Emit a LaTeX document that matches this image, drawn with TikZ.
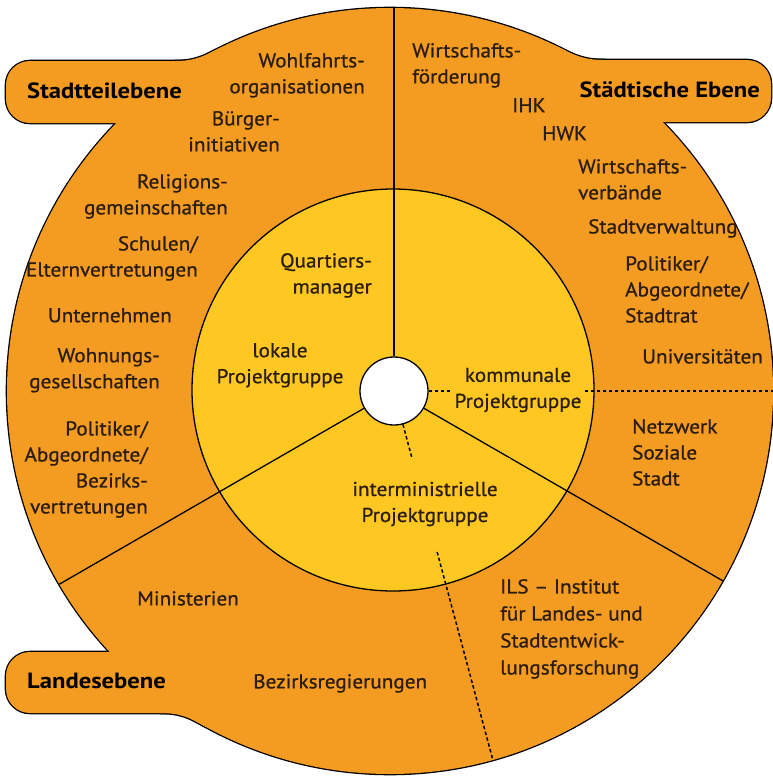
\documentclass[tikz,border=0pt]{standalone}
\usepackage{fontspec}
\setmainfont{PT Sans}
\newfontfamily\lblfont{PT Sans}[FakeBold=0.8, FakeStretch=1.06]
\newfontfamily\tabfont{PT Sans}[FakeStretch=1.12]
\usetikzlibrary{calc}
\definecolor{outerorange}{HTML}{F49B21}
\definecolor{inneryellow}{HTML}{FEC722}
\definecolor{txt}{HTML}{2A1D10}
\begin{document}
\begin{tikzpicture}[x=1pt,y=-1pt,
  lbl/.style={font=\lblfont\fontsize{20}{26}\selectfont, text=txt, inner sep=0pt},
  lblr/.style={lbl, align=right, anchor=north east},
  lbll/.style={lbl, align=left, anchor=north west},
  lblc/.style={lbl, align=center},
  tablbl/.style={font=\tabfont\bfseries\fontsize{22}{26}\selectfont, text=black, inner sep=0pt},
  divider/.style={line width=1.3pt, draw=black},
  dashdiv/.style={line width=1.5pt, draw=black, dash pattern=on 3.5pt off 2.5pt},
  covbox/.style={fill=inneryellow},
  tabshape/.style={rounded corners=24pt},
]
\useasboundingbox (0,0) rectangle (773,780);
% the outer shape: circle, three tabs and their fillets
\def\outershapes#1{%
  #1[tabshape] (6,61) rectangle (300,123);
  #1[tabshape] (480,60) rectangle (771,122);
  #1[tabshape] (6,652) rectangle (300,713);
  #1 (175,61) .. controls (195,61) and (204,56) .. (222,47) -- (240,90) -- (175,90) -- cycle;
  #1 (605,60) .. controls (585,60) and (576,56) .. (558,47) -- (540,90) -- (605,90) -- cycle;
  #1 (160,713) .. controls (180,713) and (188,717) .. (206,727) -- (230,690) -- (160,690) -- cycle;
  #1 (390,391) circle[radius=383pt];
}
% outline of the union (outer half of a wide stroke)
\begin{scope}[line width=2.6pt, line join=round]
  \outershapes{\draw}
\end{scope}
\begin{scope}[fill=outerorange]
  \outershapes{\fill}
\end{scope}
% inner circle
\filldraw[fill=inneryellow, line width=1.3pt] (393,390) circle[radius=201pt];
% hub
\node[circle, minimum size=68pt, inner sep=0pt, fill=white, draw=black, line width=1.3pt] (hub) at (394,391) {};
% dividers
\begin{scope}
  \clip (390,391) circle[radius=383pt];
  \draw[divider] (hub.90) -- ($(hub.center)+(90:420pt)$);
  \draw[divider] (hub.210) -- ($(hub.center)+(210:420pt)$);
  \draw[divider] (hub.330) -- ($(hub.center)+(330:420pt)$);
  \draw[dashdiv] (hub.0) -- ($(hub.center)+(0:420pt)$);
  \draw[dashdiv] (hub.-75) -- ($(hub.center)+(-75:420pt)$);
\end{scope}
% inner labels
\node[lblc, covbox, inner xsep=3pt, inner ysep=2pt] (kom) at (518,390) {kommunale\\Projektgruppe};
\node[lblc, covbox, inner xsep=12pt, inner ysep=24pt] (inter) at (425,504) {interministrielle\\Projektgruppe};
\node[lblr] (qm) at (372,253) {Quartiers-\\manager};
\node[lblc, anchor=north] (lok) at (280,343) {lokale\\Projektgruppe};
% tab labels
\node[tablbl, anchor=base west] (t1) at (27,98) {Stadtteilebene};
\node[tablbl, anchor=base east] (t2) at (760,97) {Städtische Ebene};
\node[tablbl, anchor=base west] (t3) at (27,688) {Landesebene};
% Stadtteilebene sector
\node[lblr] (a1) at (365,53) {Wohlfahrts-\\organisationen};
\node[lblr] (a2) at (280,111) {Bürger-\\initiativen};
\node[lblr] (a3) at (228,174) {Religions-\\gemeinschaften};
\node[lblr] (a4) at (198,236) {Schulen/\\Elternvertretungen};
\node[lblr] (a5) at (172,308) {Unternehmen};
\node[lblr] (a6) at (160,348) {Wohnungs-\\gesellschaften};
\node[lblr] (a7) at (148,421) {Politiker/\\Abgeordnete/\\Bezirks-\\vertretungen};
% Staedtische Ebene sector
\node[lbll] (b1) at (412,43) {Wirtschafts-\\förderung};
\node[lbll] (b2) at (512,98) {IHK};
\node[lbll] (b3) at (542,126) {HWK};
\node[lbll] (b4) at (578,159) {Wirtschafts-\\verbände};
\node[lbll] (b5) at (588,219) {Stadtverwaltung};
\node[lbll] (b6) at (625,256) {Politiker/\\Abgeordnete/\\Stadtrat};
\node[lbll] (b7) at (642,349) {Universitäten};
\node[lbll] (b8) at (632,419) {Netzwerk\\Soziale\\Stadt};
% Landesebene sector
\node[lbll] (c1) at (137,591) {Ministerien};
\node[lbll] (c2) at (253,674) {Bezirksregierungen};
\node[lbll, font=\lblfont\fontsize{20}{27}\selectfont] (c3) at (500,579) {ILS – Institut\\für Landes- und\\Stadtentwick-\\lungsforschung};
\end{tikzpicture}
\end{document}
